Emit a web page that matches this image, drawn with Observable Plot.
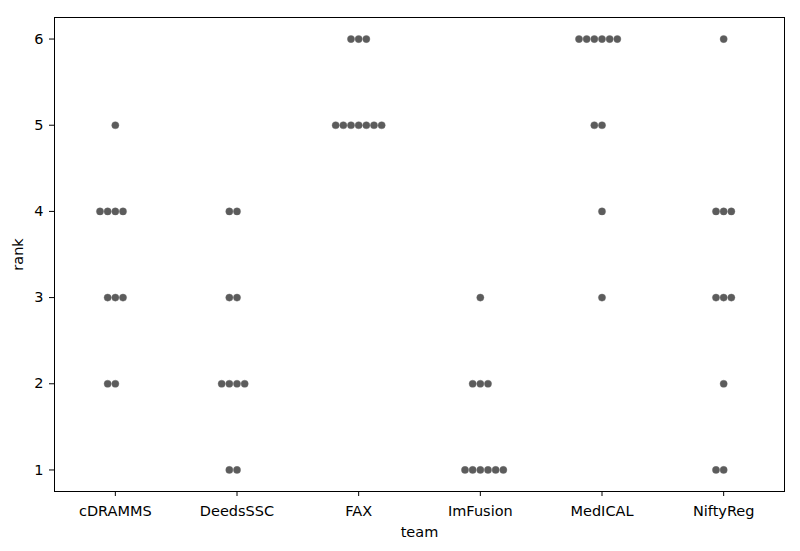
<!DOCTYPE html>
<html>
<head>
<meta charset="utf-8">
<script src="https://cdn.jsdelivr.net/npm/d3@7"></script>
<script src="https://cdn.jsdelivr.net/npm/@observablehq/plot@0.6"></script>
<style>
  html, body { margin: 0; padding: 0; background: #fff; }
  #chart { width: 800px; height: 551px; }
</style>
</head>
<body>
<div id="chart"></div>
<script>
// Categories (x axis)
const teams = ["cDRAMMS", "DeedsSSC", "FAX", "ImFusion", "MedICAL", "NiftyReg"];
// Rank values per team (one entry per observation)
const rankCDRAMMS  = [5, 4, 4, 4, 4, 3, 3, 3, 2, 2];
const rankDeedsSSC = [4, 4, 3, 3, 2, 2, 2, 2, 1, 1];
const rankFAX      = [6, 6, 6, 5, 5, 5, 5, 5, 5, 5];
const rankImFusion = [3, 2, 2, 2, 1, 1, 1, 1, 1, 1];
const rankMedICAL  = [6, 6, 6, 6, 6, 6, 5, 5, 4, 3];
const rankNiftyReg = [6, 4, 4, 4, 3, 3, 3, 2, 1, 1];
const yTicks = [1, 2, 3, 4, 5, 6];

const ranksByTeam = [rankCDRAMMS, rankDeedsSSC, rankFAX, rankImFusion, rankMedICAL, rankNiftyReg];

// Build a swarm-style table: points sharing a rank in a team are spread
// around the category centre (0, -1, +1, -2, +2, ...).
const step = 0.063; // spacing between neighbouring dots, in category units
const data = [];
ranksByTeam.forEach((ranks, ti) => {
  const counts = new Map();
  ranks.forEach(r => {
    const k = counts.get(r) || 0;
    counts.set(r, k + 1);
    const slot = k === 0 ? 0 : (k % 2 === 1 ? -Math.ceil(k / 2) : k / 2);
    data.push({team: teams[ti], ti, rank: r, slot});
  });
});
// ImFusion's rank-1 row leans right in the reference swarm
data.filter(d => d.team === "ImFusion" && d.rank === 1).forEach(d => d.slot += 1);

const chart = Plot.plot({
  width: 800,
  height: 551,
  marginLeft: 54,
  marginRight: 16,
  marginTop: 17,
  marginBottom: 60,
  style: {fontFamily: "DejaVu Sans, sans-serif", fontSize: "14.5px", background: "#fff", color: "#000"},
  x: {domain: [-0.5, teams.length - 0.5]},
  y: {domain: [0.75, 6.25]},
  marks: [
    Plot.frame({stroke: "#000", strokeWidth: 1}),
    Plot.dot(data, {
      x: d => d.ti + d.slot * step,
      y: "rank",
      r: 3.6,
      fill: "#5c5c5c",
      stroke: "#6a6a6a",
      strokeWidth: 0.4
    }),
    Plot.axisX({
      ticks: d3.range(teams.length),
      tickFormat: i => teams[i],
      tickSize: 5,
      tickPadding: 9,
      label: "team",
      labelAnchor: "center",
      labelArrow: "none",
      labelOffset: 45
    }),
    Plot.axisY({
      ticks: yTicks,
      tickFormat: d => String(d),
      tickSize: 5,
      tickPadding: 6,
      label: "rank",
      labelAnchor: "center",
      labelArrow: "none",
      labelOffset: 42
    })
  ]
});
document.getElementById("chart").appendChild(chart);
</script>
</body>
</html>
